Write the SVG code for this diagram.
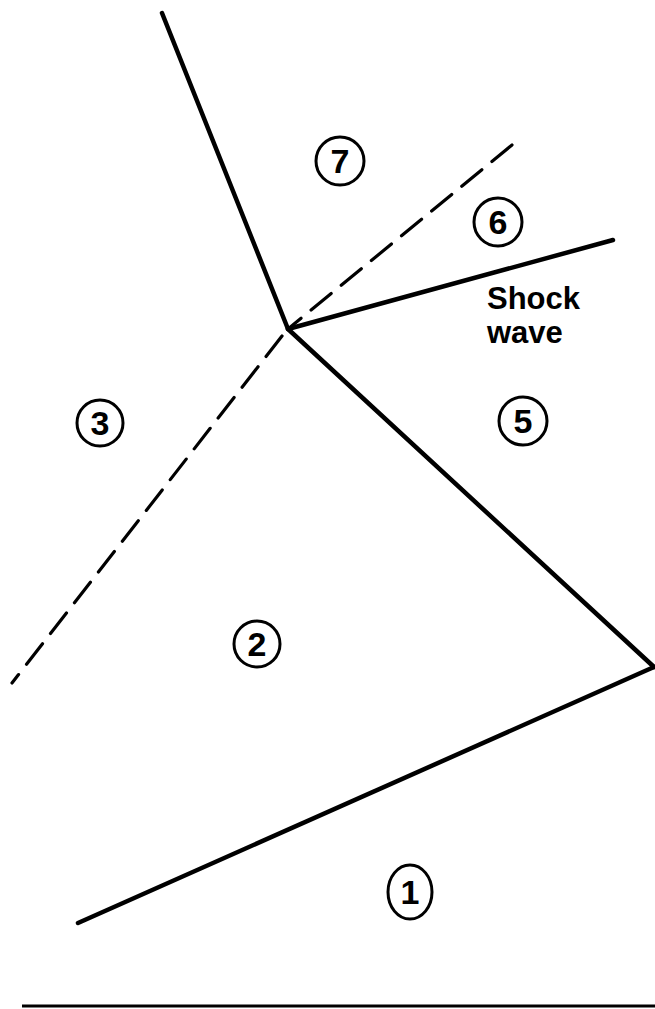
<svg xmlns="http://www.w3.org/2000/svg" width="655" height="1009" viewBox="0 0 655 1009">
<style>
.solid{stroke:#000;stroke-width:4.5;fill:none;stroke-linecap:round}
.dash{stroke:#000;stroke-width:3.2;fill:none;stroke-dasharray:26 13;stroke-linecap:round}
.ring{stroke:#000;stroke-width:3;fill:none}
.num{font-family:"Liberation Sans",Arial,sans-serif;font-size:34px;font-weight:bold;text-anchor:middle;fill:#000}
.lbl{font-family:"Liberation Sans",Arial,sans-serif;font-size:31px;font-weight:bold;fill:#000}
</style>
<rect width="655" height="1009" fill="#fff"/>
<g id="connectors">
<line class="solid" x1="162" y1="13" x2="288" y2="329"/>
<line class="solid" x1="288" y1="329" x2="613" y2="240"/>
<line class="solid" x1="288" y1="329" x2="654" y2="667"/>
<line class="solid" x1="654" y1="667" x2="78" y2="923"/>
<line class="dash" x1="512" y1="145" x2="288" y2="329"/>
<line class="dash" x1="282" y1="336" x2="12" y2="683"/>
<line x1="22" y1="1006" x2="655" y2="1006" stroke="#000" stroke-width="3"/>
</g>
<g id="region7"><circle class="ring" cx="340" cy="161" r="24"/><text class="num" x="340" y="173">7</text></g>
<g id="region6"><circle class="ring" cx="498" cy="222" r="24"/><text class="num" x="498" y="234">6</text></g>
<g id="region3"><circle class="ring" cx="100" cy="423" r="23"/><text class="num" x="100" y="435">3</text></g>
<g id="region5"><circle class="ring" cx="523" cy="421" r="24"/><text class="num" x="523" y="433">5</text></g>
<g id="region2"><circle class="ring" cx="257" cy="644" r="23"/><text class="num" x="257" y="656">2</text></g>
<g id="region1"><ellipse class="ring" cx="410" cy="892" rx="22" ry="27"/><text class="num" x="410" y="904">1</text></g>
<g id="shock-label"><text class="lbl" x="487" y="309">Shock</text><text class="lbl" x="487" y="343">wave</text></g>
</svg>
